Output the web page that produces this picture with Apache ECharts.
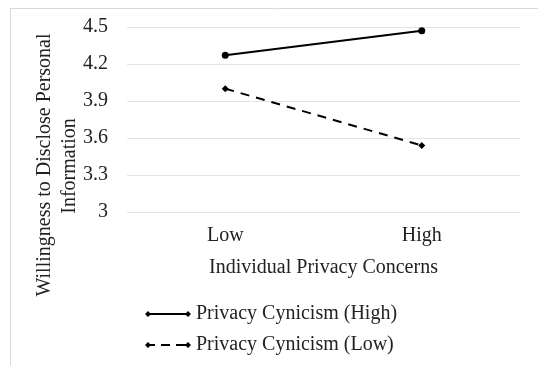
<!DOCTYPE html>
<html><head><meta charset="utf-8">
<script src="https://cdn.jsdelivr.net/npm/echarts@6/dist/echarts.min.js"></script>
<style>html,body{margin:0;padding:0;background:#fff}#c{width:538px;height:366px}</style>
</head><body><div id="c"></div>
<script>
const categories = ['Low', 'High'];
const cynicismHigh = [4.27, 4.47];
const cynicismLow = [4.0, 3.54];
const yTicks = [3, 3.3, 3.6, 3.9, 4.2, 4.5];
const seriesNames = ['Privacy Cynicism (High)', 'Privacy Cynicism (Low)'];
const FONT = '"Liberation Serif", "Times New Roman", serif';
const FS = 20;
const iconSolid = 'path://M0,4L3,1L6,4L3,7Z M3,3L43,3L43,5L3,5Z M40,4L43,1L46,4L43,7Z';
const iconDashed = 'path://M0,4L3,1L6,4L3,7Z M3,3L10,3L10,5L3,5Z M16,3L25,3L25,5L16,5Z M31,3L43,3L43,5L31,5Z M40,4L43,1L46,4L43,7Z';
const chart = echarts.init(document.getElementById('c'));
chart.setOption({
  animation: false,
  textStyle: { fontFamily: FONT },
  grid: { left: 127, right: 18, top: 27, bottom: 154 },
  xAxis: {
    type: 'category', data: categories, boundaryGap: true,
    axisLine: { show: false }, axisTick: { show: false },
    axisLabel: { color: '#222', fontSize: FS, fontFamily: FONT, margin: 14 },
    name: 'Individual Privacy Concerns', nameLocation: 'middle', nameGap: 46,
    nameTextStyle: { color: '#222', fontSize: FS, fontFamily: FONT }
  },
  yAxis: {
    type: 'value', min: 3, max: 4.5, interval: 0.3,
    axisLine: { show: false }, axisTick: { show: false },
    axisLabel: { color: '#222', fontSize: FS, fontFamily: FONT, margin: 19,
      formatter: v => { const t = yTicks.find(x => Math.abs(x - v) < 1e-6); return t === undefined ? '' : String(t); } },
    splitLine: { lineStyle: { color: '#e3e3e3', width: 1 } }
  },
  legend: {
    orient: 'vertical', left: 140, top: 299, itemWidth: 46, itemHeight: 7, itemGap: 11,
    textStyle: { color: '#222', fontSize: FS, fontFamily: FONT },
    data: [{ name: seriesNames[0], icon: iconSolid }, { name: seriesNames[1], icon: iconDashed }]
  },
  graphic: [
    { type: 'rect', shape: { x: 10.5, y: 8.5, width: 600, height: 400 }, style: { fill: 'none', stroke: '#d9d9d9', lineWidth: 1 }, silent: true },
    { type: 'text', x: 45, y: 165, rotation: Math.PI / 2, style: { text: 'Willingness to Disclose Personal', font: FS + 'px ' + FONT, fill: '#222', align: 'center', verticalAlign: 'middle' } },
    { type: 'text', x: 70, y: 166, rotation: Math.PI / 2, style: { text: 'Information', font: FS + 'px ' + FONT, fill: '#222', align: 'center', verticalAlign: 'middle' } }
  ],
  series: [
    { name: seriesNames[0], type: 'line', data: cynicismHigh, symbol: 'circle', symbolSize: 7,
      lineStyle: { color: '#000', width: 2 }, itemStyle: { color: '#000' } },
    { name: seriesNames[1], type: 'line', data: cynicismLow, symbol: 'diamond', symbolSize: 7,
      lineStyle: { color: '#000', width: 2, type: [9, 7] }, itemStyle: { color: '#000' } }
  ]
});
</script></body></html>
